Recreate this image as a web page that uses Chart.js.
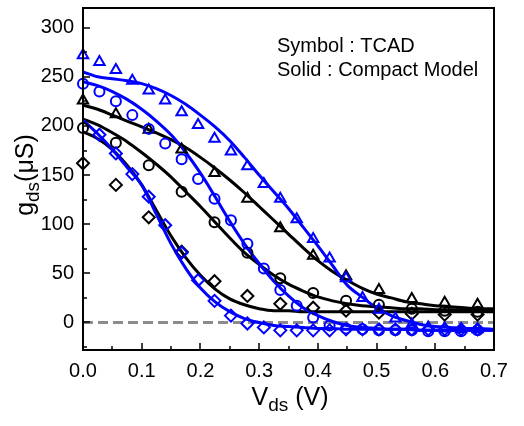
<!DOCTYPE html>
<html>
<head>
<meta charset="utf-8">
<script src="https://cdn.jsdelivr.net/npm/chart.js@4.4.1/dist/chart.umd.min.js"></script>
<style>
  html, body { margin: 0; padding: 0; background: #fff; }
  #wrap { width: 524px; height: 426px; }
</style>
</head>
<body>
<div id="wrap"><canvas id="gdsChart" width="524" height="426"></canvas></div>
<script>
// TCAD symbols: blue sets every 0.028 V, black sets every 0.056 V
const vdsBlue = [0, 0.028, 0.056, 0.084, 0.112, 0.140, 0.168, 0.196, 0.224, 0.252, 0.280, 0.308, 0.336,
                 0.364, 0.392, 0.420, 0.448, 0.476, 0.504, 0.532, 0.560, 0.588, 0.616, 0.644, 0.672];
const vdsBlack = [0, 0.056, 0.112, 0.168, 0.224, 0.280, 0.336, 0.392, 0.448, 0.504, 0.560, 0.616, 0.672];

const tcadBlueTri = [272, 265, 257, 246, 236, 226, 214, 201, 187, 174, 159, 141, 126, 105, 85, 65, 45, 25, 13, 4, -2, -5, -6, -7, -7];
const tcadBlueCirc = [243, 235, 225, 211, 197, 182, 166, 146, 126, 104, 80, 55, 33, 17, 5, -3, -6, -7, -8, -8, -8, -9, -9, -9, -8];
const tcadBlueDiam = [null, 191, 172, 151, 128, 99, 71, 43, 22, 7, -1, -5, -8, -8, -8, -8, -7, -7, -7, -7, -7, -7, -7, -7, -7];

const tcadBlackTri = [226, 212, 196, 176, 152, 126, 96, 68, 47, 33, 24, 20, 18];
const tcadBlackCirc = [198, 183, 160, 133, 102, 71, 45, 30, 22, 18, 14, 12, 11];
const tcadBlackDiam = [162, 140, 107, 72, 42, 27, 19, 15, 12, 10, 9, 8, 8];

// compact model curves, every 0.025 V
const vdsModel = [0, 0.025, 0.05, 0.075, 0.1, 0.125, 0.15, 0.175, 0.2, 0.225, 0.25, 0.275, 0.3, 0.325, 0.35,
                  0.375, 0.4, 0.425, 0.45, 0.475, 0.5, 0.525, 0.55, 0.575, 0.6, 0.625, 0.65, 0.675, 0.7];
const modelBlueA = [255, 250, 248, 246, 243, 238, 231, 222, 211, 199, 185, 168, 150, 133, 116, 97, 78, 58, 38, 26, 15, 7, 2, -2, -4, -5, -6, -6, -7];
const modelBlueB = [245, 241, 235, 227, 217, 205, 191, 173, 152, 128, 103, 80, 60, 42, 27, 15, 7, 1, -3, -5, -6, -7, -7, -8, -8, -8, -8, -8, -8];
const modelBlueC = [206, 192, 176, 158, 140, 110, 80, 55, 35, 21, 11, 4, 0, -3, -4, -5, -6, -6, -7, -7, -7, -7, -7, -8, -8, -8, -8, -8, -8];
const modelBlackA = [221, 217, 211, 205, 199, 193, 186, 178, 168, 157, 145, 132, 118, 104, 90, 76, 63, 52, 43, 35, 29, 25, 21, 19, 17, 16, 15, 14, 14];
const modelBlackB = [207, 201, 193, 184, 173, 161, 148, 133, 118, 102, 86, 71, 59, 48, 39, 32, 26, 22, 19, 17, 16, 15, 14, 14, 13, 13, 13, 13, 13];
const modelBlackC = [194, 187, 176, 160, 140, 114, 88, 66, 48, 34, 24, 18, 14, 12, 12, 11, 11, 11, 11, 11, 11, 11, 11, 11, 11, 11, 11, 11, 11];

const zeroLineX = [0, 0.7];
const zeroLineY = [0, 0];

const xTicks = [0, 0.1, 0.2, 0.3, 0.4, 0.5, 0.6, 0.7];
const yTicks = [0, 50, 100, 150, 200, 250, 300];
const noteLines = ['Symbol : TCAD', 'Solid : Compact Model'];

const BLUE = '#0000ff';
const BLACK = '#000000';
const FONT = '"Liberation Sans", Arial, sans-serif';

function pts(xs, ys) {
    const out = [];
    for (let i = 0; i < xs.length; i++) {
        if (ys[i] !== null) out.push({ x: xs[i], y: ys[i] });
    }
    return out;
}

function symbols(ys, xs, color, style, radius) {
    return {
        data: pts(xs, ys),
        showLine: false,
        borderColor: color,
        backgroundColor: 'transparent',
        pointStyle: style,
        pointRadius: radius,
        pointBorderWidth: 2,
        pointBackgroundColor: 'transparent',
        pointBorderColor: color,
        clip: 8
    };
}

function curve(ys, color) {
    return {
        data: pts(vdsModel, ys),
        showLine: true,
        borderColor: color,
        borderWidth: 3,
        pointRadius: 0,
        cubicInterpolationMode: 'monotone'
    };
}

// draws a run of text pieces (for subscripts), centred on (x, y)
function drawParts(c, parts, x, y) {
    let total = 0;
    parts.forEach(p => { c.font = p.font; total += c.measureText(p.text).width; });
    let cx = x - total / 2;
    parts.forEach(p => {
        c.font = p.font;
        c.fillText(p.text, cx, y + (p.dy || 0));
        cx += c.measureText(p.text).width;
    });
}

const framePlugin = {
    id: 'frame',
    afterDatasetsDraw(chart) {
        const c = chart.ctx;
        const area = chart.chartArea;
        const xs = chart.scales.x;
        const ys = chart.scales.y;
        c.save();
        c.setLineDash([]);
        c.globalAlpha = 1;
        c.strokeStyle = '#000';
        c.lineWidth = 2;
        c.beginPath();
        c.rect(area.left, area.top, area.right - area.left, area.bottom - area.top);
        c.stroke();

        // inward ticks, major and minor
        c.lineWidth = 1.5;
        c.beginPath();
        for (let i = 0; i <= 14; i++) {
            const px = Math.round(xs.getPixelForValue(i * 0.05));
            c.moveTo(px, area.bottom);
            c.lineTo(px, area.bottom - (i % 2 === 0 ? 7 : 4));
        }
        for (let i = -1; i <= 12; i++) {
            const py = Math.round(ys.getPixelForValue(i * 25));
            c.moveTo(area.left, py);
            c.lineTo(area.left + (i % 2 === 0 ? 7 : 4), py);
        }
        c.stroke();
        c.restore();
    },
    afterDraw(chart) {
        const c = chart.ctx;
        c.save();
        c.fillStyle = '#000';
        c.textBaseline = 'alphabetic';
        c.textAlign = 'left';

        // x title
        drawParts(c, [
            { text: 'V', font: '25px ' + FONT },
            { text: 'ds', font: '19px ' + FONT, dy: 6 },
            { text: ' (V)', font: '25px ' + FONT }
        ], 290, 405);

        // y title (rotated)
        c.save();
        c.translate(33, 175);
        c.rotate(-Math.PI / 2);
        drawParts(c, [
            { text: 'g', font: '25px ' + FONT },
            { text: 'ds', font: '19px ' + FONT, dy: 6 },
            { text: '(\u03bcS)', font: '25px ' + FONT }
        ], 0, 0);
        c.restore();

        // note
        c.font = '20px ' + FONT;
        c.fillText(noteLines[0], 277, 52);
        c.fillText(noteLines[1], 277, 76);
        c.restore();
    }
};

const gdsChart = new Chart(document.getElementById('gdsChart'), {
    type: 'scatter',
    data: {
        datasets: [
            symbols(tcadBlueTri, vdsBlue, BLUE, 'triangle', 6),
            symbols(tcadBlueCirc, vdsBlue, BLUE, 'circle', 5),
            symbols(tcadBlueDiam, vdsBlue, BLUE, 'rectRot', 6),
            symbols(tcadBlackTri, vdsBlack, BLACK, 'triangle', 6),
            symbols(tcadBlackCirc, vdsBlack, BLACK, 'circle', 5),
            symbols(tcadBlackDiam, vdsBlack, BLACK, 'rectRot', 6),
            curve(modelBlueA, BLUE),
            curve(modelBlueB, BLUE),
            curve(modelBlueC, BLUE),
            curve(modelBlackA, BLACK),
            curve(modelBlackB, BLACK),
            curve(modelBlackC, BLACK),
            {
                data: pts(zeroLineX, zeroLineY),
                showLine: true,
                borderColor: '#8c8c8c',
                borderWidth: 3,
                borderDash: [10, 5],
                pointRadius: 0
            }
        ]
    },
    options: {
        responsive: false,
        animation: false,
        layout: { padding: { left: 0, right: 30, top: 5, bottom: 0 } },
        plugins: {
            legend: { display: false },
            tooltip: { enabled: false }
        },
        scales: {
            x: {
                type: 'linear',
                min: 0,
                max: 0.7,
                grid: { display: false, drawTicks: false },
                border: { display: false },
                afterBuildTicks: scale => { scale.ticks = xTicks.map(v => ({ value: v })); },
                afterFit: scale => {
                    scale.height = 76;
                    scale.paddingLeft = 0;
                    scale.paddingRight = 0;
                },
                ticks: {
                    padding: 9,
                    color: BLACK,
                    maxRotation: 0,
                    font: { family: FONT, size: 20 },
                    callback: v => v.toFixed(1)
                }
            },
            y: {
                type: 'linear',
                min: -28,
                max: 320,
                grid: { display: false, drawTicks: false },
                border: { display: false },
                afterBuildTicks: scale => { scale.ticks = yTicks.map(v => ({ value: v })); },
                afterFit: scale => {
                    scale.width = 83;
                    scale.paddingTop = 0;
                    scale.paddingBottom = 0;
                },
                ticks: {
                    padding: 9,
                    color: BLACK,
                    font: { family: FONT, size: 20 }
                }
            }
        }
    },
    plugins: [framePlugin]
});
</script>
</body>
</html>
